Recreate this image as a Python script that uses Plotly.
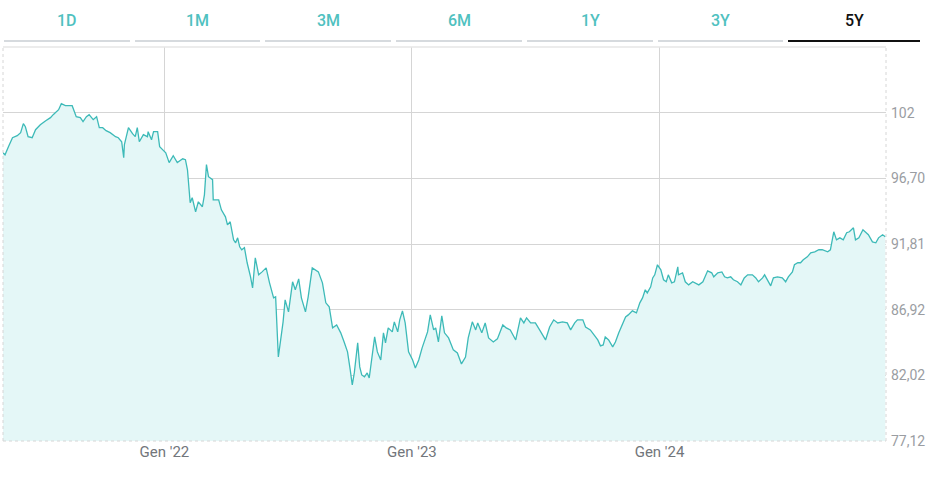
import plotly.graph_objects as go

# ---------------- data ----------------
dates = [
    "2021-05-08","2021-05-11","2021-05-16","2021-05-22","2021-05-29","2021-06-03","2021-06-07","2021-06-10",
    "2021-06-14","2021-06-20","2021-06-25","2021-07-02","2021-07-10","2021-07-17","2021-07-21","2021-07-29",
    "2021-08-02","2021-08-08","2021-08-18","2021-08-21","2021-08-24","2021-08-30","2021-09-03","2021-09-08",
    "2021-09-12","2021-09-18","2021-09-23","2021-09-27","2021-10-02","2021-10-07","2021-10-13","2021-10-21",
    "2021-10-25","2021-10-30","2021-11-02","2021-11-03","2021-11-09","2021-11-15","2021-11-19","2021-11-22",
    "2021-11-25","2021-12-01","2021-12-07","2021-12-08","2021-12-13","2021-12-16","2021-12-22","2021-12-25",
    "2021-12-30","2022-01-03","2022-01-08","2022-01-14","2022-01-20","2022-01-28","2022-02-01","2022-02-04",
    "2022-02-08","2022-02-11","2022-02-16","2022-02-20","2022-02-26","2022-03-01","2022-03-04","2022-03-07",
    "2022-03-13","2022-03-14","2022-03-22","2022-03-26","2022-04-01","2022-04-04","2022-04-08","2022-04-13",
    "2022-04-16","2022-04-19","2022-04-22","2022-04-25","2022-04-29","2022-05-03","2022-05-08","2022-05-11",
    "2022-05-15","2022-05-20","2022-05-25","2022-05-31","2022-06-05","2022-06-11","2022-06-14","2022-06-18",
    "2022-06-23","2022-06-25","2022-06-28","2022-07-03","2022-07-09","2022-07-13","2022-07-18","2022-07-22",
    "2022-07-28","2022-08-01","2022-08-07","2022-08-12","2022-08-16","2022-08-22","2022-08-27","2022-09-01",
    "2022-09-06","2022-09-12","2022-09-18","2022-09-23","2022-09-28","2022-10-02","2022-10-05","2022-10-08",
    "2022-10-13","2022-10-16","2022-10-19","2022-10-23","2022-10-27","2022-10-30","2022-11-04","2022-11-07",
    "2022-11-11","2022-11-16","2022-11-20","2022-11-23","2022-11-27","2022-12-03","2022-12-06","2022-12-11",
    "2022-12-14","2022-12-18","2022-12-22","2022-12-27","2023-01-02","2023-01-06","2023-01-11","2023-01-16",
    "2023-01-24","2023-01-28","2023-02-02","2023-02-05","2023-02-09","2023-02-14","2023-02-18","2023-02-24",
    "2023-03-03","2023-03-09","2023-03-15","2023-03-21","2023-03-25","2023-03-31","2023-04-05","2023-04-08",
    "2023-04-14","2023-04-19","2023-04-24","2023-05-01","2023-05-07","2023-05-15","2023-05-20","2023-05-26",
    "2023-06-03","2023-06-10","2023-06-15","2023-06-19","2023-06-25","2023-07-02","2023-07-10","2023-07-17",
    "2023-07-23","2023-07-29","2023-08-04","2023-08-11","2023-08-18","2023-08-23","2023-08-29","2023-09-02",
    "2023-09-10","2023-09-14","2023-09-21","2023-09-26","2023-10-02","2023-10-06","2023-10-10","2023-10-13",
    "2023-10-18","2023-10-24","2023-10-28","2023-11-02","2023-11-07","2023-11-12","2023-11-16","2023-11-22",
    "2023-11-28","2023-12-03","2023-12-07","2023-12-11","2023-12-14","2023-12-19","2023-12-22","2023-12-25",
    "2023-12-29","2024-01-03","2024-01-07","2024-01-11","2024-01-14","2024-01-19","2024-01-23","2024-01-28",
    "2024-01-29","2024-02-04","2024-02-08","2024-02-13","2024-02-19","2024-02-23","2024-02-28","2024-03-05",
    "2024-03-09","2024-03-12","2024-03-18","2024-03-21","2024-03-27","2024-04-02","2024-04-06","2024-04-10",
    "2024-04-15","2024-04-19","2024-04-25","2024-04-30","2024-05-05","2024-05-10","2024-05-17","2024-05-22",
    "2024-05-26","2024-06-01","2024-06-04","2024-06-08","2024-06-13","2024-06-17","2024-06-23","2024-06-30",
    "2024-07-05","2024-07-09","2024-07-15","2024-07-18","2024-07-23","2024-07-27","2024-07-31","2024-08-06",
    "2024-08-11","2024-08-17","2024-08-23","2024-08-28","2024-09-05","2024-09-09","2024-09-12","2024-09-14",
    "2024-09-18","2024-09-23","2024-09-28","2024-10-03","2024-10-07","2024-10-13","2024-10-16","2024-10-21",
    "2024-10-27","2024-10-31","2024-11-04","2024-11-10","2024-11-15","2024-11-19","2024-11-25","2024-11-29",
]
prices = [
    98.63, 98.48, 99.08, 99.75, 99.90, 100.13, 100.80, 100.57,
    99.83, 99.75, 100.35, 100.72, 101.02, 101.25, 101.47, 101.84,
    102.29, 102.14, 102.14, 101.77, 101.32, 101.25, 100.95, 101.32,
    101.47, 101.10, 101.32, 100.50, 100.50, 100.28, 100.13, 99.83,
    99.75, 99.45, 98.26, 99.23, 100.50, 100.05, 99.83, 100.50,
    99.45, 99.98, 99.83, 100.20, 99.60, 100.20, 100.20, 99.08,
    98.86, 98.63, 97.89, 98.41, 97.89, 98.18, 98.11, 97.36,
    94.90, 95.27, 94.22, 94.97, 94.60, 95.49, 97.74, 96.84,
    96.62, 95.12, 95.12, 94.37, 93.85, 93.25, 93.48, 92.13,
    91.91, 92.28, 91.61, 91.39, 91.54, 90.42, 89.37, 88.55,
    90.79, 89.52, 89.74, 90.04, 88.92, 87.80, 87.88, 83.39,
    85.26, 86.01, 87.65, 86.75, 89.00, 88.40, 89.22, 87.80,
    86.75, 87.88, 90.04, 89.89, 89.74, 88.92, 87.43, 87.13,
    85.56, 85.78, 85.19, 84.51, 83.77, 82.42, 81.30, 82.20,
    84.44, 82.65, 82.05, 81.90, 82.20, 81.82, 83.54, 84.89,
    83.77, 83.17, 85.19, 84.44, 85.56, 85.26, 86.01, 85.26,
    86.16, 86.83, 85.93, 83.77, 83.17, 82.57, 83.17, 84.07,
    85.26, 86.53, 85.41, 85.56, 84.51, 86.46, 85.19, 84.81,
    83.92, 83.69, 82.87, 83.39, 84.81, 86.01, 85.41, 85.93,
    85.19, 85.93, 84.81, 84.51, 84.74, 85.78, 85.56, 85.41,
    84.66, 86.31, 85.93, 86.31, 85.93, 85.93, 85.26, 84.66,
    85.63, 86.16, 85.93, 86.01, 85.93, 85.41, 85.93, 86.16,
    86.16, 85.63, 85.41, 85.04, 84.66, 84.22, 84.29, 84.89,
    84.66, 84.14, 84.51, 85.19, 85.78, 86.38, 86.53, 86.83,
    86.68, 87.43, 87.80, 88.40, 88.17, 88.62, 89.29, 89.52,
    90.27, 89.89, 89.15, 89.00, 89.52, 88.92, 89.00, 90.12,
    89.52, 89.67, 89.00, 88.77, 89.00, 88.92, 88.77, 89.00,
    89.52, 89.82, 89.67, 89.37, 89.67, 89.74, 89.37, 89.29,
    89.37, 89.15, 89.00, 88.77, 89.29, 89.52, 89.52, 89.29,
    89.00, 89.29, 89.52, 89.15, 88.70, 89.29, 89.37, 89.29,
    89.00, 89.37, 89.74, 90.27, 90.42, 90.42, 90.64, 90.86,
    91.16, 91.24, 91.39, 91.39, 91.24, 91.39, 92.13, 92.73,
    92.13, 92.28, 92.13, 92.66, 92.73, 93.03, 92.13, 92.28,
    92.88, 92.66, 92.51, 91.98, 91.91, 92.28, 92.51, 92.36,
]

y_tick_vals = [77.12, 82.02, 86.92, 91.82, 96.72, 101.62]
y_tick_text = ["77,12", "82,02", "86,92", "91,81", "96,70", "102"]
y_range = [77.12, 106.52]

x_tick_vals = ["2022-01-01", "2023-01-01", "2024-01-01"]
x_tick_text = ["Gen '22", "Gen '23", "Gen '24"]
x_range = ["2021-05-08", "2024-11-30"]

tabs = ["1D", "1M", "3M", "6M", "1Y", "3Y", "5Y"]
active_tab = "5Y"

# ---------------- layout geometry (pixels) ----------------
W_FIG, H_FIG = 947, 494
L, R, T, B = 3, 886, 47, 441
PW, PH = R - L, B - T

def px(x):
    return (x - L) / PW

def py(y):
    return (B - y) / PH

LINE = "#3dbab8"
FILL = "#e4f7f7"
GRID = "#d5d5d5"
TEAL_TXT = "#4fc1c0"

fig = go.Figure()
fig.add_trace(go.Scatter(
    x=dates, y=prices, mode="lines",
    line=dict(color=LINE, width=1.3),
    fill="tozeroy", fillcolor=FILL,
    hoverinfo="skip", showlegend=False,
))

shapes = []
annotations = []
# tab bar
tab_edges = [(4, 130), (135, 260), (265, 391), (396, 522), (527, 653), (658, 783), (788, 920)]
for name, (x0, x1) in zip(tabs, tab_edges):
    active = name == active_tab
    shapes.append(dict(
        type="line", xref="paper", yref="paper",
        x0=px(x0), x1=px(x1), y0=py(41), y1=py(41),
        line=dict(color="#111111" if active else "#d6dade", width=2),
    ))
    annotations.append(dict(
        text=name, xref="paper", yref="paper",
        x=px((x0 + x1) / 2), y=py(20), xanchor="center", yanchor="middle",
        showarrow=False,
        font=dict(family="Roboto", size=16, weight=500,
                  color="#111111" if active else TEAL_TXT),
    ))

# plot frame: solid top, dotted sides/bottom
shapes.append(dict(type="line", xref="paper", yref="paper", x0=0, x1=1, y0=1, y1=1,
                   line=dict(color="#e6e6e6", width=1.5)))
for (x0, y0, x1, y1) in [(0, 0, 1, 0), (0, 0, 0, 1), (1, 0, 1, 1)]:
    shapes.append(dict(type="line", xref="paper", yref="paper", x0=x0, x1=x1, y0=y0, y1=y1,
                       line=dict(color="#d6d6d6", width=1, dash="dot")))

fig.update_layout(
    width=W_FIG, height=H_FIG,
    margin=dict(l=L, r=W_FIG - R, t=T, b=H_FIG - B),
    paper_bgcolor="white", plot_bgcolor="white",
    shapes=shapes, annotations=annotations,
    xaxis=dict(
        type="date", range=x_range,
        tickmode="array", tickvals=x_tick_vals, ticktext=x_tick_text,
        showgrid=True, gridcolor=GRID, gridwidth=1,
        showline=False, zeroline=False, ticks="",
        tickfont=dict(family="Roboto", size=15, color="#72767b"),
        fixedrange=True,
    ),
    yaxis=dict(
        side="right", range=y_range,
        tickmode="array", tickvals=y_tick_vals, ticktext=y_tick_text,
        showgrid=True, gridcolor=GRID, gridwidth=1,
        showline=False, zeroline=False, ticks="",
        ticklabelstandoff=4,
        tickfont=dict(family="Roboto", size=14, color="#9a9da2"),
        fixedrange=True,
    ),
)

fig.write_html("out.html")
